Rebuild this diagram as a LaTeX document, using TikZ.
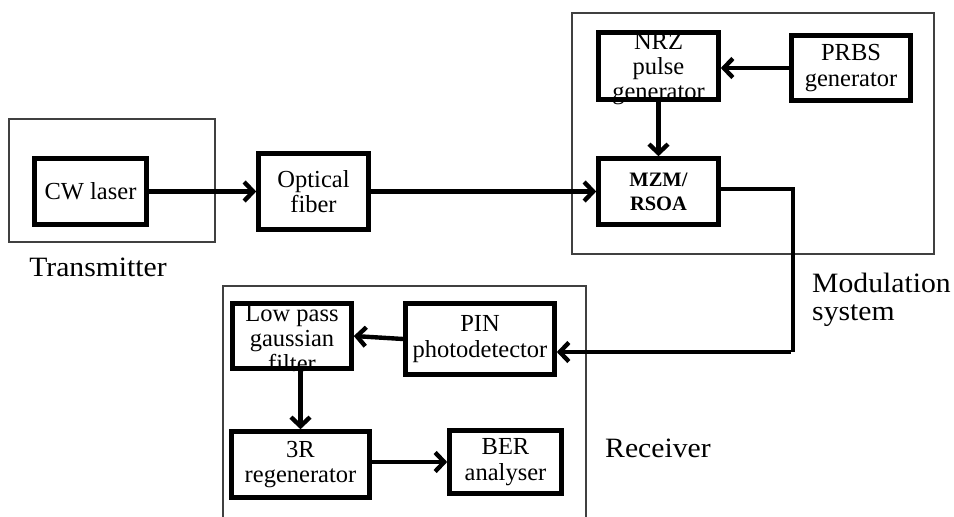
\documentclass[tikz,border=0pt]{standalone}
\usepackage{fontspec}
\setmainfont{Liberation Serif}
\newfontfamily\labelfont[FakeStretch=1.06]{Liberation Serif}
\usetikzlibrary{arrows.meta}
\begin{document}
\begin{tikzpicture}[x=1pt,y=-1pt,
  blk/.style={draw=black, line width=4.6pt, align=center, inner sep=0pt,
    font=\fontsize{24.5}{25.5}\selectfont},
  txt/.style={align=center, inner sep=0pt, font=\fontsize{24.5}{25}\selectfont},
  grp/.style={draw=black!75, line width=1.1pt},
  lbl/.style={font=\labelfont\fontsize{28}{28}\selectfont, inner sep=0pt},
  flow/.style={line width=4.4pt, -{Straight Barb[length=9pt,width=19pt]}},
  wire/.style={line width=4.4pt}]
\useasboundingbox (0,0) rectangle (954,517);
\begin{scope}
\clip (0,0) rectangle (954,517);
% group frames
\draw[grp] (9,119) rectangle (215,242);
\draw[grp] (572,13) rectangle (934,254);
\draw[grp] (223,286) rectangle (586,540);
\end{scope}

% blocks
\node[blk, minimum width=112pt, minimum height=66pt] (cw) at (90.5,191.5) {CW laser};
\node[blk, minimum width=110pt, minimum height=76pt] (fib) at (313.5,191.5) {Optical\\fiber};
\node[blk, minimum width=120pt, minimum height=67pt] (nrz) at (658.5,66) {};
\node[txt] (nrzt) at (658.5,69.5) {NRZ\\pulse\\generator};
\node[blk, minimum width=119pt, minimum height=65pt] (prbs) at (851,68) {PRBS\\generator};
\node[blk, minimum width=120pt, minimum height=66pt,
  font=\fontsize{20.5}{24}\selectfont\bfseries] (mzm) at (658.5,191.5) {MZM/\\RSOA};
\node[blk, minimum width=119pt, minimum height=65pt] (lp) at (292,336) {};
\node[txt] (lpt) at (292,339) {Low pass\\gaussian\\filter};
\node[blk, minimum width=149pt, minimum height=71pt] (pin) at (480,339) {PIN\\photodetector};
\node[blk, minimum width=138pt, minimum height=66pt] (r3) at (300.5,464.5) {3R\\regenerator};
\node[blk, minimum width=112pt, minimum height=63pt] (ber) at (505.5,462) {BER\\analyser};

% group labels
\node[lbl] (ltx) at (98,267) {Transmitter};
\node[lbl, anchor=west, align=left] (lmod) at (812,300) {Modulation\\system};
\node[lbl, anchor=west] (lrx) at (605,448) {Receiver};

% signal path
\coordinate (c1) at (793,189);
\coordinate (c2) at (793,352);
\draw[flow] (cw.east) -- (fib.west);
\draw[flow] (fib.east) -- (mzm.west);
\draw[flow] (prbs.west) -- (prbs.west -| nrz.east);
\draw[flow] (nrz.south) -- (mzm.north);
\draw[wire, line join=miter] (mzm.east |- c1) -- (c1) -- (c2);
\draw[flow] ([xshift=-2.2pt]c2) -- (pin.east |- c2);
\draw[flow] (pin.west) -- (lp.east);
\draw[flow] (r3.north |- lp.south) -- (r3.north);
\draw[flow] (r3.east |- ber.west) -- (ber.west);
\end{tikzpicture}
\end{document}
